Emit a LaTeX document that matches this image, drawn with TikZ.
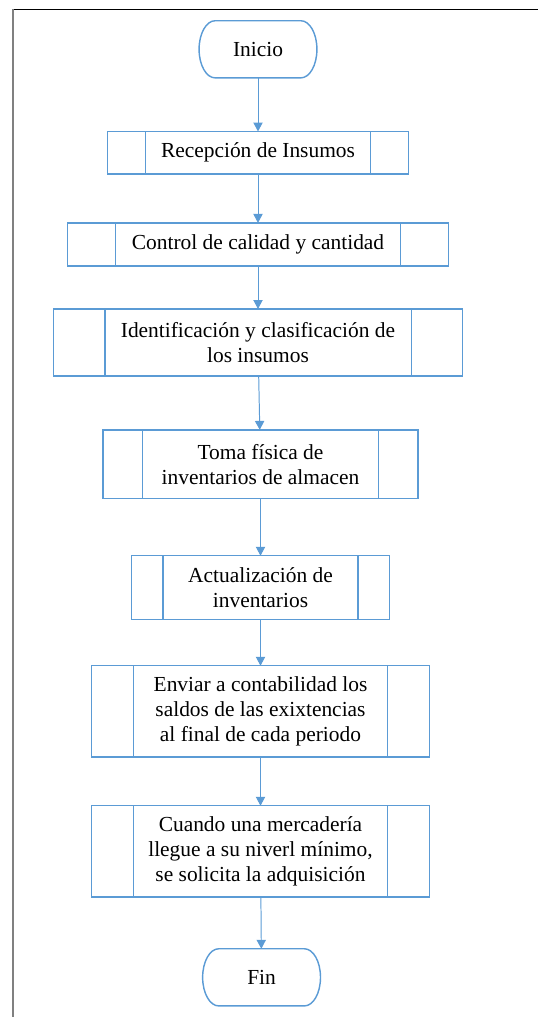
\documentclass[tikz,border=0pt]{standalone}
\usepackage{fontspec}
\setmainfont{Liberation Serif}
\usepackage{tikz}
\usetikzlibrary{arrows.meta,positioning}
\usepackage{xcolor}
\definecolor{flowblue}{RGB}{91,155,213}
\definecolor{framegray}{RGB}{128,128,128}
\tikzset{
  procbox/.style={rectangle, draw=flowblue, line width=0.8pt, outer sep=0pt, align=center,
                  font=\fontsize{12}{14}\selectfont},
  sidebar/.style={path picture={
      \draw[flowblue, line width=0.8pt]
        ([xshift=#1]path picture bounding box.north west) -- ([xshift=#1]path picture bounding box.south west)
        ([xshift=-#1]path picture bounding box.north east) -- ([xshift=-#1]path picture bounding box.south east);}},
  terminal/.style={rectangle, outer sep=0pt, minimum width=66pt, minimum height=32pt,
                   font=\fontsize{12}{14}\selectfont},
  flowline/.style={draw=flowblue, line width=0.8pt},
  arrow/.style={-{Triangle[length=5pt,width=5.2pt]}, flowblue, line width=0.55pt},
}
% terminator outline with elliptic ends
\newcommand{\termoutline}[1]{%
  \draw[flowline] ([xshift=9pt]#1.north west) -- ([xshift=-9pt]#1.north east)
    arc[start angle=90, end angle=-90, x radius=9pt, y radius=16pt]
    -- ([xshift=9pt]#1.south west)
    arc[start angle=270, end angle=90, x radius=9pt, y radius=16pt] -- cycle;}

\begin{document}
\begin{tikzpicture}[x=0.56pt, y=0.56pt]
\useasboundingbox (0,0) rectangle (538,-1017);
% page frame
\draw[black, line width=0.6pt] (12.7,-9.3) -- (538,-9.3);
\draw[framegray, line width=1.1pt] (12.7,-9.3) -- (12.7,-1017);

\node[terminal] (ini) at (258,-49.3) {Inicio};
\node[procbox, sidebar=21.3pt, minimum width=168.6pt, minimum height=23.8pt, below=30pt of ini] (rec) {Recepción de Insumos};
\node[procbox, sidebar=26.9pt, minimum width=213.4pt, minimum height=24.1pt, below=27.4pt of rec] (ctrl) {Control de calidad y cantidad};
\node[procbox, sidebar=28.6pt, minimum width=228.8pt, minimum height=37.5pt, below=24.1pt of ctrl] (ident) {Identificación y clasificación de\\los insumos};
\node[procbox, sidebar=22.1pt, minimum width=176.4pt, minimum height=38.6pt, below=30.2pt of ident, xshift=1.4pt] (toma) {Toma física de\\inventarios de almacen};
\node[procbox, sidebar=17.6pt, minimum width=144.5pt, minimum height=35.8pt, below=31.9pt of toma] (act) {Actualización de\\inventarios};
\node[procbox, sidebar=23.5pt, minimum width=189.3pt, minimum height=51pt, below=25.8pt of act] (env) {Enviar a contabilidad los\\saldos de las exixtencias\\al final de cada periodo};
\node[procbox, sidebar=23.5pt, minimum width=189.3pt, minimum height=51pt, below=27.4pt of env] (cuando) {Cuando una mercadería\\llegue a su niverl mínimo,\\se solicita la adquisición};
\node[terminal, below=29.1pt of cuando, xshift=0.6pt] (fin) {Fin};
\termoutline{ini}
\termoutline{fin}

\foreach \a/\b in {ini/rec, rec/ctrl, ctrl/ident, ident/toma, toma/act, act/env, env/cuando, cuando/fin}
  \draw[arrow] (\a) -- (\b);
\end{tikzpicture}
\end{document}
